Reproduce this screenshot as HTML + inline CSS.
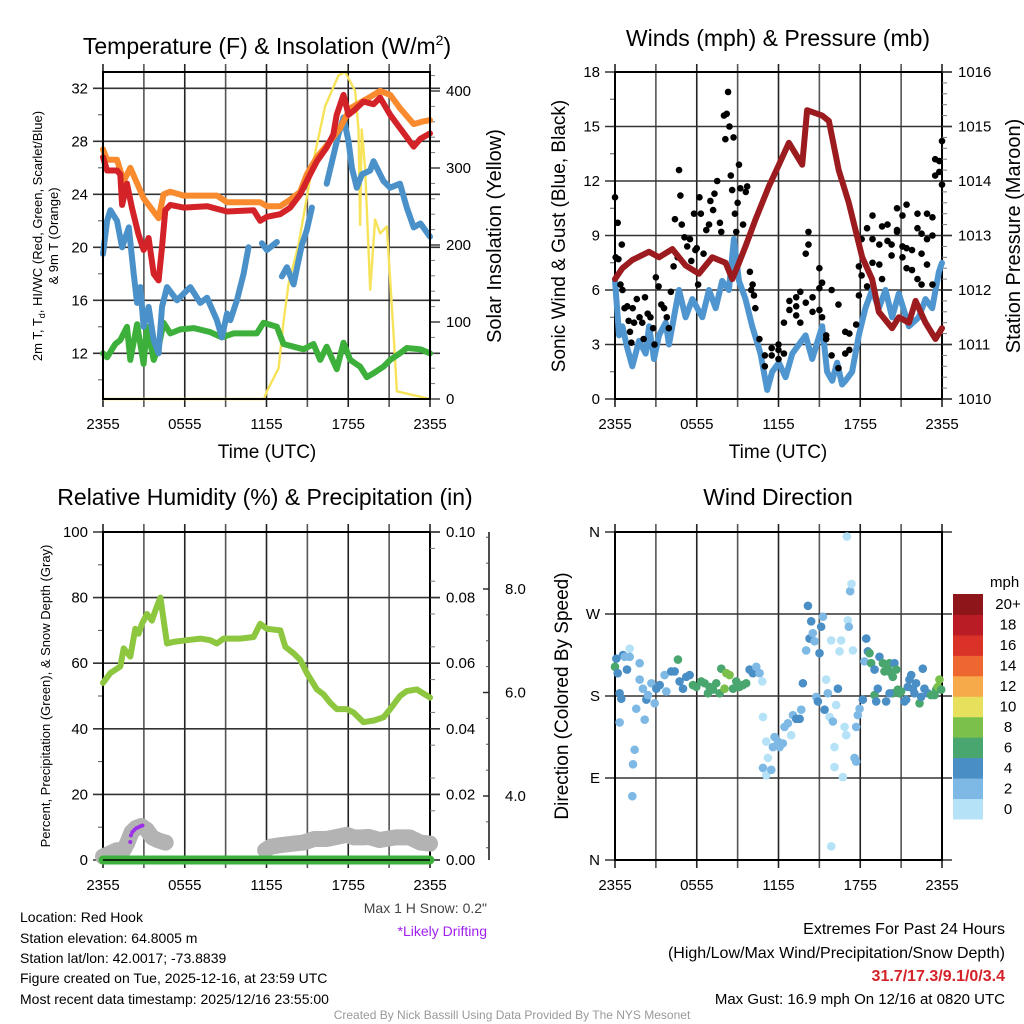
<!DOCTYPE html>
<html><head><meta charset="utf-8">
<style>
html,body{margin:0;padding:0;background:#fff;}
svg{display:block;font-family:"Liberation Sans",Arial,sans-serif;}
</style></head>
<body>
<svg id="chart" width="1024" height="1024" viewBox="0 0 1024 1024" xmlns="http://www.w3.org/2000/svg">
<rect width="1024" height="1024" fill="#fff"/>
<g id="g1"></g>
<g id="g2"></g>
<g id="g3"></g>
<g id="g4"></g>
<g id="gt">
<text x="267" y="54" font-size="23" text-anchor="middle">Temperature (F) &amp; Insolation (W/m<tspan dy="-9" font-size="14">2</tspan><tspan dy="9">)</tspan></text>
<text x="778" y="46" font-size="23" text-anchor="middle">Winds (mph) &amp; Pressure (mb)</text>
<text x="265" y="505" font-size="23" text-anchor="middle">Relative Humidity (%) &amp; Precipitation (in)</text>
<text x="778" y="505" font-size="23" text-anchor="middle">Wind Direction</text>
<text x="267" y="458" font-size="19" text-anchor="middle">Time (UTC)</text>
<text x="778" y="458" font-size="19" text-anchor="middle">Time (UTC)</text>
<text transform="translate(42,236) rotate(-90)" font-size="13" text-anchor="middle">2m T, T<tspan dy="3" font-size="9">d</tspan><tspan dy="-3">, HI/WC (Red, Green, Scarlet/Blue)</tspan></text>
<text transform="translate(58,236) rotate(-90)" font-size="13" text-anchor="middle">&amp; 9m T (Orange)</text>
<text transform="translate(501,236) rotate(-90)" font-size="20" text-anchor="middle">Solar Insolation (Yellow)</text>
<text transform="translate(565,236) rotate(-90)" font-size="19" text-anchor="middle">Sonic Wind &amp; Gust (Blue, Black)</text>
<text transform="translate(1020,236) rotate(-90)" font-size="20" text-anchor="middle">Station Pressure (Maroon)</text>
<text transform="translate(50,696) rotate(-90)" font-size="13" text-anchor="middle">Percent, Precipitation (Green), &amp; Snow Depth (Gray)</text>
<text transform="translate(568,696) rotate(-90)" font-size="19" text-anchor="middle">Direction (Colored By Speed)</text>
<text x="487" y="913" font-size="14" fill="#444" text-anchor="end">Max 1 H Snow: 0.2"</text>
<text x="487" y="936" font-size="14" fill="#a020f0" text-anchor="end">*Likely Drifting</text>
<g font-size="14">
<text x="20" y="922">Location: Red Hook</text>
<text x="20" y="943">Station elevation: 64.8005 m</text>
<text x="20" y="963">Station lat/lon: 42.0017; -73.8839</text>
<text x="20" y="983">Figure created on Tue, 2025-12-16, at 23:59 UTC</text>
<text x="20" y="1004">Most recent data timestamp: 2025/12/16 23:55:00</text>
</g>
<g font-size="16" text-anchor="end">
<text x="1005" y="934">Extremes For Past 24 Hours</text>
<text x="1005" y="958">(High/Low/Max Wind/Precipitation/Snow Depth)</text>
<text x="1005" y="981" fill="#d42229" font-weight="bold">31.7/17.3/9.1/0/3.4</text>
<text x="1005" y="1004" font-size="15">Max Gust: 16.9 mph On 12/16 at 0820 UTC</text>
</g>
<text x="512" y="1019" font-size="12" fill="#999" text-anchor="middle">Created By Nick Bassill Using Data Provided By The NYS Mesonet</text>
</g>
</svg>
<script>
// ---------- DATA ----------
const timeTicks = ["2355","0555","1155","1755","2355"];
const tempTicks = [12,16,20,24,28,32];
const solarTicks = [0,100,200,300,400];
const windTicks = [0,3,6,9,12,15,18];
const pressTicks = [1010,1011,1012,1013,1014,1015,1016];
const rhTicks = [0,20,40,60,80,100];
const precipTicks = ["0.00","0.02","0.04","0.06","0.08","0.10"];
const snowTicks = ["4.0","6.0","8.0"];
const dirTicks = ["N","E","S","W","N"];
const speedBins = ["0","2","4","6","8","10","12","14","16","18","20+"];

const orangeH = [0,0.3,1.03,1.52,2.0,2.98,4.08,4.45,4.94,5.92,8.36,9.1,11.54,12.03,13.0,13.74,14.47,14.96,15.7,16.67,17.4,18.14,19.36,20.34,21.08,21.8,22.8,23.5,24];
const orangeV = [27.4,26.6,26.6,25.0,26.0,23.7,22.2,24.0,24.2,23.9,23.9,23.4,23.4,23.1,23.1,23.6,24.2,25.5,26.8,28.0,29.0,30.5,31.2,31.8,31.5,30.5,29.3,29.5,29.6];
const redH = [0,0.3,1.03,1.27,1.4,1.76,2.12,2.6,2.98,3.35,3.72,4.08,4.33,4.57,4.94,5.92,7.63,9.1,11.05,11.54,12.03,13.0,13.74,14.47,15.2,15.7,16.4,16.9,17.15,17.65,18.02,18.39,19.12,19.85,20.34,21.08,21.8,22.8,23.3,24];
const redV = [26.8,25.8,25.8,25.5,23.2,24.8,23.0,21.0,19.8,20.7,18.0,17.5,20.0,22.8,23.2,23.0,23.1,22.7,22.8,22.0,22.3,22.5,23.0,24.0,25.5,26.5,27.5,28.5,30.0,31.5,30.0,30.3,31.0,30.8,31.3,30.0,29.0,27.6,28.2,28.6];
const blueH = [0,0.3,0.54,1.03,1.4,1.89,2.25,2.5,2.74,2.98,3.35,3.72,4.08,4.33,4.7,5.43,6.41,7.14,7.63,8.36,8.73,9.1,9.34,9.83,10.32,10.68,null,11.66,12.03,12.76,null,13.13,13.5,13.99,14.35,14.6,14.96,15.33,null,16.42,17.28,17.65,18.02,18.27,18.63,19.0,19.61,19.85,20.59,21.08,21.8,22.3,22.8,23.3,24];
const blueV = [19.5,22.0,22.8,22.0,20.0,21.5,18.0,15.8,17.0,14.0,15.5,13.0,12.0,15.5,17.0,16.0,17.0,15.8,16.2,14.5,13.2,15.0,14.5,16.0,18.0,20.0,null,20.3,19.8,20.4,null,17.8,18.5,17.2,19.0,20.2,21.3,23.0,null,24.8,28.5,29.8,28.0,26.0,24.5,25.5,25.8,26.5,25.0,24.5,24.8,23.0,21.5,21.8,20.8];
const greenH = [0,0.3,0.9,1.27,1.76,2.0,2.5,2.98,3.23,3.72,4.08,4.45,4.94,5.67,6.65,7.87,8.73,9.58,11.29,11.78,12.76,13.25,13.99,14.72,15.45,15.94,16.42,17.16,17.65,18.14,18.87,19.36,19.85,20.59,21.08,21.8,22.3,23.3,24];
const greenV = [12.0,11.7,12.7,13.0,14.0,11.5,14.2,11.2,14.0,11.5,12.5,14.3,13.5,13.8,13.9,13.6,13.2,13.5,13.5,14.3,14.0,12.7,12.5,12.3,12.7,11.5,12.5,10.8,12.8,11.5,11.0,10.2,10.5,11.0,11.5,12.0,12.4,12.3,12.0];
const solarH = [0,11.82,12.03,12.89,13.25,13.62,14.35,15.33,16.3,17.28,17.77,18.51,18.75,18.87,18.99,19.24,19.61,19.97,20.34,20.83,21.32,21.57,24];
const solarV = [0,0,10,40,100,150,200,300,380,420,425,400,350,226,350,300,142,233,215,224,86,10,0];

const windH = [0,0.3,0.54,0.9,1.27,1.76,2.25,2.5,2.86,3.23,3.72,3.96,4.45,4.7,5.18,5.67,6.41,6.9,7.39,7.87,8.36,8.73,9.1,9.58,10.07,10.68,11.17,11.54,12.03,12.52,13.01,13.5,13.99,14.47,15.21,15.57,15.94,16.3,16.67,16.91,17.4,17.89,18.38,18.87,19.36,19.85,20.34,20.83,21.57,22.3,22.79,23.28,23.77,24];
const windV = [6.5,3.5,4.0,2.8,1.8,3.2,2.5,4.0,2.2,3.5,4.2,3.0,5.0,6.0,4.5,5.5,4.5,6.0,5.0,6.5,6.0,8.8,6.5,5.5,4.0,2.5,0.5,1.5,2.0,1.2,2.5,3.0,3.5,2.2,4.0,1.5,1.0,2.0,0.8,1.0,1.5,3.5,5.0,6.0,5.0,6.0,4.5,5.8,4.0,4.5,5.5,5.0,7.0,7.5];
const pressH = [0,0.54,1.27,2.49,3.23,4.21,5.18,6.16,7.14,8.12,8.61,9.1,9.58,10.32,11.29,12.03,12.76,13.74,14.1,15.21,15.7,16.42,17.16,18.14,18.87,19.36,20.34,20.83,21.57,22.06,22.79,23.52,24];
const pressV = [1012.2,1012.4,1012.55,1012.7,1012.6,1012.75,1012.45,1012.3,1012.6,1012.5,1012.2,1012.5,1012.8,1013.3,1013.9,1014.3,1014.7,1014.3,1015.3,1015.2,1015.1,1014.2,1013.6,1012.6,1012.2,1011.6,1011.3,1011.5,1011.4,1011.8,1011.4,1011.1,1011.3];
const gustH = [0,0.05,0.2,0.25,0.4,0.5,0.55,0.7,0.9,1.0,1.1,1.2,1.3,1.4,1.6,1.8,2.0,2.1,2.2,2.4,2.6,2.8,2.9,3.0,3.2,3.4,3.6,3.8,3.95,4.1,4.3,4.4,4.6,4.7,4.8,4.9,5.1,5.3,5.5,5.6,5.8,5.9,6.0,6.1,6.2,6.3,6.5,6.7,6.9,7.0,7.2,7.3,7.5,7.7,7.8,8.0,8.1,8.2,8.3,8.4,8.5,8.6,8.7,8.8,8.9,9.0,9.1,9.2,9.4,9.6,9.7,9.9,10.0,10.1,10.2,10.3,10.6,11.0,11.0,11.5,11.5,12.0,12.0,12.0,12.4,12.4,12.8,12.8,13.3,13.3,13.3,13.6,13.6,14.0,14.0,14.2,14.2,14.5,14.5,15.0,15.0,15.0,15.2,15.2,15.5,15.5,15.9,15.9,16.4,16.4,16.9,16.9,17.2,17.2,17.7,17.9,17.9,18.1,18.1,18.5,18.5,18.9,18.9,18.9,19.4,19.4,19.6,19.6,20.0,20.0,20.3,20.3,20.7,20.7,20.7,21.1,21.1,21.1,21.4,21.4,21.4,21.8,21.8,22.2,22.2,22.2,22.5,22.5,22.5,22.9,22.9,22.9,23.3,23.3,23.3,23.5,23.5,23.8,23.8,24.0,24.0];
const gustV = [11.1,7.8,9.7,7.7,6.3,8.5,6.0,5.0,5.1,4.3,3.7,3.1,5.0,4.2,5.5,4.5,4.2,3.3,5.6,4.7,4.5,3.9,3.0,6.7,6.2,5.2,5.0,4.5,3.9,5.9,7.3,9.9,7.8,12.6,11.2,9.6,8.9,8.4,8.8,7.6,10.2,8.2,8.3,6.3,11.1,10.2,8.0,9.3,9.6,10.9,10.4,11.3,12.0,9.7,9.2,15.6,14.3,15.7,16.9,15.0,12.3,11.5,14.4,10.2,9.2,10.8,12.9,11.6,9.6,11.4,11.7,7.0,6.0,6.3,5.7,5.0,3.3,2.4,1.8,2.4,2.8,3.0,2.7,2.2,4.2,2.5,4.9,5.4,4.6,5.1,5.6,4.2,5.9,5.3,8.0,9.2,8.5,5.6,4.8,6.1,7.2,4.9,6.4,4.5,3.5,3.3,6.0,2.4,5.2,1.7,3.7,2.5,2.7,3.6,4.1,5.7,7.3,8.8,6.8,6.2,9.4,8.8,10.1,7.5,8.5,7.4,9.5,6.6,9.6,8.7,8.5,7.9,9.3,10.5,9.2,7.8,10.1,8.4,10.7,8.3,7.2,7.1,8.2,6.6,10.2,9.4,6.3,8.0,9.1,10.2,7.4,8.8,6.3,10.0,9.0,13.2,12.3,13.1,12.5,14.2,11.8];

const rhH = [0,0.54,1.27,1.52,2.0,2.37,2.61,2.86,3.23,3.59,3.84,4.21,4.7,5.18,6.16,7.14,7.87,8.36,8.85,10.07,11.05,11.54,12.03,13.01,13.38,13.99,14.47,14.96,15.7,16.18,16.67,17.16,17.89,18.38,19.12,19.85,20.59,21.08,21.8,22.3,23.03,24];
const rhV = [54,57,59,64.5,62,70.5,69,72,75,73,76,80,66,66.5,67,67.5,67,66,67.5,67.5,68,72,70.5,70,65,63,61,57,52,50.5,48,46,46,45,42,42.5,43.5,46,50,51.5,52,49.5];
const snowH = [0,0.5,1.0,1.5,1.8,2.1,2.4,2.8,3.2,3.6,4.0,4.3,4.6,null,11.9,12.3,13.0,14.0,14.7,15.5,16.4,17.0,17.9,18.4,19.1,19.5,20.3,21.5,22.5,23.3,24];
const snowV = [2.83,2.89,2.95,2.95,3.1,3.3,3.38,3.42,3.35,3.2,3.15,3.12,3.1,null,2.95,3.02,3.05,3.08,3.1,3.17,3.17,3.2,3.25,3.2,3.2,3.21,3.15,3.2,3.2,3.1,3.08];
const driftH = [2.0,2.05,2.15,2.3,2.45,2.6,2.75,2.9];
const driftV = [5.5,7.5,8.5,9.2,9.7,10.0,10.3,10.5];
const precipH = [0,24];
const precipV = [0,0];

const dirH = [0,0.1,0.2,0.34,0.46,0.59,0.71,0.88,1.08,1.08,0.34,1.56,1.81,1.81,2.05,2.3,2.42,2.91,2.18,1.44,1.32,1.27,2.67,3.03,3.28,3.64,3.77,4.13,4.38,4.62,4.74,4.99,5.23,5.48,5.72,5.97,6.33,6.58,6.82,6.94,7.19,7.43,7.68,7.8,8.04,8.17,8.41,8.66,8.9,9.14,9.39,9.63,9.88,10.12,10.37,10.61,10.81,10.86,11.1,11.22,10.86,11.1,11.47,11.59,11.71,11.96,12.08,12.32,12.44,12.69,12.93,13.06,13.3,13.55,13.67,13.79,14.03,14.16,14.28,14.4,14.52,14.65,14.77,14.89,15.01,15.13,15.26,15.38,15.5,15.62,15.75,15.87,15.87,15.99,16.11,16.11,16.23,16.36,16.6,16.48,16.72,16.85,16.97,17.02,17.09,17.16,17.26,17.36,17.46,17.58,17.7,17.7,17.82,17.95,18.19,18.31,18.44,18.56,18.68,18.8,19.05,19.05,19.17,19.29,19.41,19.66,19.78,19.9,20.02,20.15,20.27,20.39,20.51,20.64,20.76,20.88,21.0,21.25,21.37,21.49,21.61,21.74,21.86,21.98,22.1,22.35,22.47,22.59,22.71,22.96,23.2,23.45,23.57,23.69,23.81,23.94,20.39,20.15];
const dirD = [212,221,205,183,177,225,223,209,232,223,151,166,216,198,188,176,181,172,154,121,105,70,194,188,192,203,185,207,207,220,196,188,201,203,192,190,196,194,183,190,187,194,183,210,188,205,203,188,196,190,192,194,209,205,212,205,196,157,130,112,101,93,99,124,135,130,124,128,146,150,137,159,155,155,165,194,230,279,243,262,249,240,179,174,227,256,267,165,198,183,157,241,15,152,124,102,170,188,241,229,91,146,137,355,263,256,295,303,230,112,108,146,159,166,176,218,243,229,227,216,209,181,174,188,223,216,207,174,210,216,205,201,216,209,187,183,185,174,176,190,198,203,188,183,194,172,179,210,188,183,181,181,187,190,198,187,183,183];
const dirS = [7,5,5,5,5,5,3,5,1,3,3,3,3,3,3,5,3,3,3,3,3,3,3,5,5,3,3,5,5,7,5,5,5,5,7,7,7,7,7,7,7,7,7,7,9,9,9,7,7,7,7,7,5,5,3,3,1,1,1,1,3,1,3,3,3,3,3,3,3,3,1,3,5,5,3,5,3,5,5,5,3,3,3,5,5,5,3,5,1,3,1,1,1,3,1,1,1,5,1,1,1,1,1,1,1,3,3,1,1,3,3,3,3,3,5,3,5,5,7,7,5,7,5,5,5,7,7,5,7,7,7,7,5,7,7,7,7,5,5,5,5,5,5,5,5,7,5,5,5,5,7,7,7,9,9,7,7,5,5];

// ---------- RENDER ----------
const NS = "http://www.w3.org/2000/svg";
const speedColors = ["#b5e2f7","#7db9e4","#4a8ec6","#49a66e","#7bc04a","#e6e05c","#f6aa4a","#ee6630","#da3229","#b91c25","#8e1519"];
function mk(parent, tag, attrs){ const e=document.createElementNS(NS,tag); for(const k in attrs) e.setAttribute(k,attrs[k]); parent.appendChild(e); return e; }
function xScale(x0,x1){ return h => x0 + h*(x1-x0)/24; }
function lin(d0,d1,r0,r1){ return v => r0 + (v-d0)*(r1-r0)/(d1-d0); }
function pathFrom(hs,vs,sx,sy){ let d="",pen=false; for(let i=0;i<hs.length;i++){ if(hs[i]===null||vs[i]===null){pen=false;continue;} d+=(pen?"L":"M")+sx(hs[i]).toFixed(1)+","+sy(vs[i]).toFixed(1); pen=true;} return d; }

function frame(g, x0,x1,y0,y1, leftTicks, leftScale, leftLabels, leftMinor){
  for(let i=0;i<=8;i++){ const x=x0+i*(x1-x0)/8;
    const l=mk(g,"line",{x1:x,x2:x,y1:y0-8,y2:y1+8,stroke:(i%2?"#555":"#222"),"stroke-width":1.6});
      }
  leftTicks.forEach((v,i)=>{ const y=leftScale(v);
    const l=mk(g,"line",{x1:x0-10,x2:x1+10,y1:y,y2:y,stroke:"#333","stroke-width":1.6});
     
    const t=mk(g,"text",{x:x0-15,y:y+5,"font-size":15,"text-anchor":"end"}); t.textContent=leftLabels[i];
      });
  (leftMinor||[]).forEach(v=>{ const y=leftScale(v); mk(g,"line",{x1:x0-5,x2:x0,y1:y,y2:y,stroke:"#555","stroke-width":1}); });
  mk(g,"rect",{x:x0,y:y0,width:x1-x0,height:y1-y0,fill:"none",stroke:"#000","stroke-width":2});
  timeTicks.forEach((t,i)=>{ const x=x0+i*(x1-x0)/4; const e=mk(g,"text",{x:x,y:y1+30,"font-size":15,"text-anchor":"middle"}); e.textContent=t;
      });
}
function rightAxis(g,x1,scale,ticks,labels,minor){
  ticks.forEach((v,i)=>{ const y=scale(v); mk(g,"line",{x1:x1,x2:x1+10,y1:y,y2:y,stroke:"#333","stroke-width":1.4});
    const t=mk(g,"text",{x:x1+16,y:y+5,"font-size":15}); t.textContent=labels[i];
      });
  (minor||[]).forEach(v=>{ const y=scale(v); mk(g,"line",{x1:x1,x2:x1+5,y1:y,y2:y,stroke:"#777","stroke-width":1}); });
}
function line(g,d,color,w,name){ const p=mk(g,"path",{d:d,fill:"none",stroke:color,"stroke-width":w,"stroke-linejoin":"round","stroke-linecap":"round"});
    return p; }

// Panel 1
(function(){
  const g=document.getElementById("g1"); const x0=103,x1=430,y0=72,y1=399;
  const sx=xScale(x0,x1); const sy=lin(12,32,353.3,88.3); const sw=lin(0,400,399,91);
  frame(g,x0,x1,y0,y1,tempTicks,sy,tempTicks.map(String),[10,14,18,22,26,30]);
  rightAxis(g,x1,sw,solarTicks,solarTicks.map(String),[20,40,60,80,120,140,160,180,220,240,260,280,320,340,360,380,420]);
  line(g,pathFrom(solarH,solarV,sx,sw),"#f7e35a",2.4,"solar-line");
  line(g,pathFrom(greenH,greenV,sx,sy),"#3db03c",6,"dewpoint-line");
  line(g,pathFrom(blueH,blueV,sx,sy),"#4a90c9",6,"windchill-line");
  line(g,pathFrom(orangeH,orangeV,sx,sy),"#f98a2e",6,"temp-9m-line");
  line(g,pathFrom(redH,redV,sx,sy),"#d42229",6,"temp-2m-line");
  mk(g,"rect",{x:x0,y:y0,width:x1-x0,height:y1-y0,fill:"none",stroke:"#000","stroke-width":2});
})();
// Panel 2
(function(){
  const g=document.getElementById("g2"); const x0=615,x1=942,y0=72,y1=399;
  const sx=xScale(x0,x1); const sy=lin(0,18,399,72); const sp=lin(1010,1016,399,72);
  frame(g,x0,x1,y0,y1,windTicks,sy,windTicks.map(String),[1.5,4.5,7.5,10.5,13.5,16.5]);
  rightAxis(g,x1,sp,pressTicks,pressTicks.map(String),[1010.2,1010.4,1010.6,1010.8,1011.2,1011.4,1011.6,1011.8,1012.2,1012.4,1012.6,1012.8,1013.2,1013.4,1013.6,1013.8,1014.2,1014.4,1014.6,1014.8,1015.2,1015.4,1015.6,1015.8]);
  line(g,pathFrom(windH,windV,sx,sy),"#4f96d0",6,"wind-line");
  gustH.forEach((h,i)=>{ const c=mk(g,"circle",{cx:sx(h),cy:sy(gustV[i]),r:3.3,fill:"#000"});
      });
  line(g,pathFrom(pressH,pressV,sx,sp),"#9b1b1e",6,"pressure-line");
})();
// Panel 3
(function(){
  const g=document.getElementById("g3"); const x0=103,x1=430,y0=532,y1=860;
  const sx=xScale(x0,x1); const sy=lin(0,100,860,532); const ss=lin(4,8,796,589);
  frame(g,x0,x1,y0,y1,rhTicks,sy,rhTicks.map(String),[10,30,50,70,90]);
  rightAxis(g,x1,sy,rhTicks,precipTicks,[5,15,25,35,45,55,65,75,85,95]);
  mk(g,"line",{x1:489,x2:489,y1:y0,y2:y1,stroke:"#222","stroke-width":1.6});
  [4,6,8].forEach((v,i)=>{ const y=ss(v); mk(g,"line",{x1:483,x2:489,y1:y,y2:y,stroke:"#222","stroke-width":1.4});
    const t=mk(g,"text",{x:505,y:y+5,"font-size":15}); t.textContent=snowTicks[i];
      });
  [3,3.5,4.5,5,5.5,6.5,7,7.5,8.5,9].forEach(v=>{ const y=ss(v); mk(g,"line",{x1:486,x2:489,y1:y,y2:y,stroke:"#555","stroke-width":1}); });
  line(g,pathFrom(snowH,snowV,sx,ss),"#b3b3b3",16,"snow-depth-line");
  line(g,pathFrom(rhH,rhV,sx,sy),"#8dc63f",6,"humidity-line");
  driftH.forEach((h,i)=>{ const c=mk(g,"circle",{cx:sx(h),cy:sy(driftV[i]),r:2,fill:"#9b30e8"});
      });
  line(g,pathFrom(precipH,precipV,sx,sy),"#3db03c",9,"precip-line");
  mk(g,"line",{x1:x0,x2:x1,y1:y1,y2:y1,stroke:"#000","stroke-width":1.5});
})();
// Panel 4
(function(){
  const g=document.getElementById("g4"); const x0=615,x1=942,y0=532,y1=860;
  const sx=xScale(x0,x1); const sd=lin(0,360,860,532);
  frame(g,x0,x1,y0,y1,[0,90,180,270,360],sd,dirTicks,[]);
  dirH.forEach((h,i)=>{ const b=Math.min(10,Math.floor(dirS[i]/2));
    const c=mk(g,"circle",{cx:sx(h),cy:sd(dirD[i]),r:4.3,fill:speedColors[b]});
      });
  const lg=mk(g,"g",{});
   
  const t=mk(lg,"text",{x:990,y:587,"font-size":15}); t.textContent="mph";
  const bh=(819-594)/11;
  speedBins.forEach((lab,i)=>{ const y=819-(i+1)*bh;
    const r=mk(lg,"rect",{x:953,y:y,width:30,height:bh+0.5,fill:speedColors[i]});
     
    const tt=mk(lg,"text",{x:1008,y:y+bh/2+5,"font-size":15,"text-anchor":"middle"}); tt.textContent=lab;
      });
})();
</script>
</body></html>
